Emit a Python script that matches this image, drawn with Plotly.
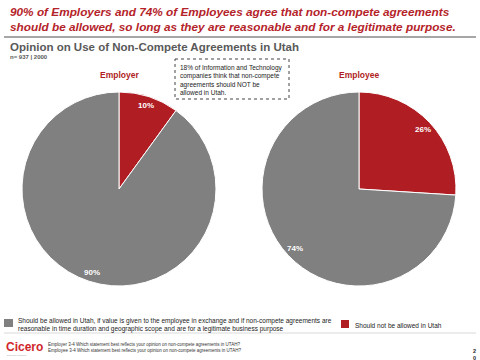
import math
import plotly.graph_objects as go

W, H = 480, 360

categories = ["Should not be allowed in Utah",
              "Should be allowed in Utah, if value is given to the employee in exchange and if non-compete agreements are reasonable in time duration and geographic scope and are for a legitimate business purpose"]
employer_values = [10, 90]
employee_values = [26, 74]
slice_colors = ["#B01E24", "#808080"]
group_names = ["Employer", "Employee"]

RED = "#B01E24"
FONT = "Liberation Sans, Arial, sans-serif"


def px(x):
    return x / W


def py(y):
    return 1 - y / H


# pie geometry in pixels (center x, center y, radius)
pies = [(119, 189, 97), (359, 189, 97)]
series = [employer_values, employee_values]

fig = go.Figure()
annotations = []
for (cx, cy, r), vals, name in zip(pies, series, group_names):
    fig.add_trace(go.Pie(
        values=vals, labels=categories, sort=False, direction="clockwise",
        rotation=0, marker=dict(colors=slice_colors, line=dict(color="white", width=1)),
        textinfo="none", hoverinfo="label+percent", showlegend=False,
        domain=dict(x=[px(cx - r), px(cx + r)], y=[py(cy + r), py(cy - r)]),
    ))
    total = sum(vals)
    start = 0.0
    for v in vals:
        mid = (start + v / 2) / total * 2 * math.pi
        start += v
        lx = cx + 0.9 * r * math.sin(mid)
        ly = cy - 0.9 * r * math.cos(mid)
        annotations.append(dict(x=px(lx), y=py(ly), xref="paper", yref="paper",
                                xanchor="center", yanchor="middle",
                                text=f"<b>{v}%</b>", showarrow=False,
                                font=dict(color="white", size=8, family=FONT)))
    annotations.append(dict(x=px(cx), y=py(75), xref="paper", yref="paper",
                            xanchor="center", yanchor="middle",
                            text=f"<b>{name}</b>", showarrow=False,
                            font=dict(color=RED, size=8.5, family=FONT)))

# Title
annotations.append(dict(x=px(8), y=py(19), xref="paper", yref="paper", xanchor="left", yanchor="middle",
                        text="<b><i>90% of Employers and 74% of Employees agree that non-compete agreements<br>"
                             "should be allowed, so long as they are reasonable and for a legitimate purpose.</i></b>",
                        showarrow=False, align="left",
                        font=dict(color="#B5232A", size=11.8, family=FONT)))
annotations.append(dict(x=px(8), y=py(47), xref="paper", yref="paper", xanchor="left", yanchor="middle",
                        text="<b>Opinion on Use of Non-Compete Agreements in Utah</b>", showarrow=False,
                        font=dict(color="#595959", size=11.5, family=FONT)))
annotations.append(dict(x=px(8), y=py(57), xref="paper", yref="paper", xanchor="left", yanchor="middle",
                        text="<b>n= 937 | 2000</b>", showarrow=False,
                        font=dict(color="#595959", size=6, family=FONT)))
# callout
annotations.append(dict(x=px(178), y=py(80), xref="paper", yref="paper", xanchor="left", yanchor="middle",
                        text="18% of Information and Technology<br>companies think that non-compete<br>"
                             "agreements should NOT be<br>allowed in Utah.",
                        showarrow=False, align="left",
                        font=dict(color="#222222", size=6.5, family=FONT)))
# legend
annotations.append(dict(x=px(16), y=py(325), xref="paper", yref="paper", xanchor="left", yanchor="middle",
                        text="Should be allowed in Utah, if value is given to the employee in exchange and if non-compete agreements are<br>"
                             "reasonable in time duration and geographic scope and are for a legitimate business purpose",
                        showarrow=False, align="left",
                        font=dict(color="#222222", size=6.5, family=FONT)))
annotations.append(dict(x=px(353), y=py(325), xref="paper", yref="paper", xanchor="left", yanchor="middle",
                        text=categories[0], showarrow=False,
                        font=dict(color="#222222", size=6.5, family=FONT)))
# footer
annotations.append(dict(x=px(4), y=py(347), xref="paper", yref="paper", xanchor="left", yanchor="middle",
                        text="<b>Cicero</b>", showarrow=False,
                        font=dict(color="#D0262D", size=12, family=FONT)))
annotations.append(dict(x=px(5), y=py(355), xref="paper", yref="paper", xanchor="left", yanchor="middle",
                        text="Dialogue Strategy", showarrow=False,
                        font=dict(color="#AAAAAA", size=2.5, family=FONT)))
annotations.append(dict(x=px(46), y=py(347), xref="paper", yref="paper", xanchor="left", yanchor="middle",
                        text="Employer 3-4 Which statement best reflects your opinion on non-compete agreements in UTAH?<br>"
                             "Employee 3-4 Which statement best reflects your opinion on non-compete agreements in UTAH?",
                        showarrow=False, align="left",
                        font=dict(color="#333333", size=4.5, family=FONT)))
annotations.append(dict(x=px(474), y=py(354), xref="paper", yref="paper", xanchor="center", yanchor="middle",
                        text="<b>2<br>0</b>", showarrow=False,
                        font=dict(color="#222222", size=5.5, family=FONT)))

shapes = [
    dict(type="line", xref="paper", yref="paper", x0=px(4), x1=px(476), y0=py(37), y1=py(37),
         line=dict(color="#A6A6A6", width=2)),
    dict(type="rect", xref="paper", yref="paper", x0=px(175), x1=px(289), y0=py(59), y1=py(99),
         line=dict(color="#444444", width=1, dash="dot"), fillcolor="rgba(0,0,0,0)"),
    dict(type="rect", xref="paper", yref="paper", x0=px(4), x1=px(13), y0=py(319), y1=py(327),
         line=dict(width=0), fillcolor=slice_colors[1]),
    dict(type="rect", xref="paper", yref="paper", x0=px(341), x1=px(349), y0=py(320), y1=py(328),
         line=dict(width=0), fillcolor=slice_colors[0]),
    dict(type="line", xref="paper", yref="paper", x0=px(4), x1=px(476), y0=py(333), y1=py(333),
         line=dict(color="#D9D9D9", width=1)),
]

fig.update_layout(width=W, height=H, margin=dict(l=0, r=0, t=0, b=0),
                  paper_bgcolor="white", plot_bgcolor="white",
                  annotations=annotations, shapes=shapes, font=dict(family=FONT))
fig.write_html("out.html")
